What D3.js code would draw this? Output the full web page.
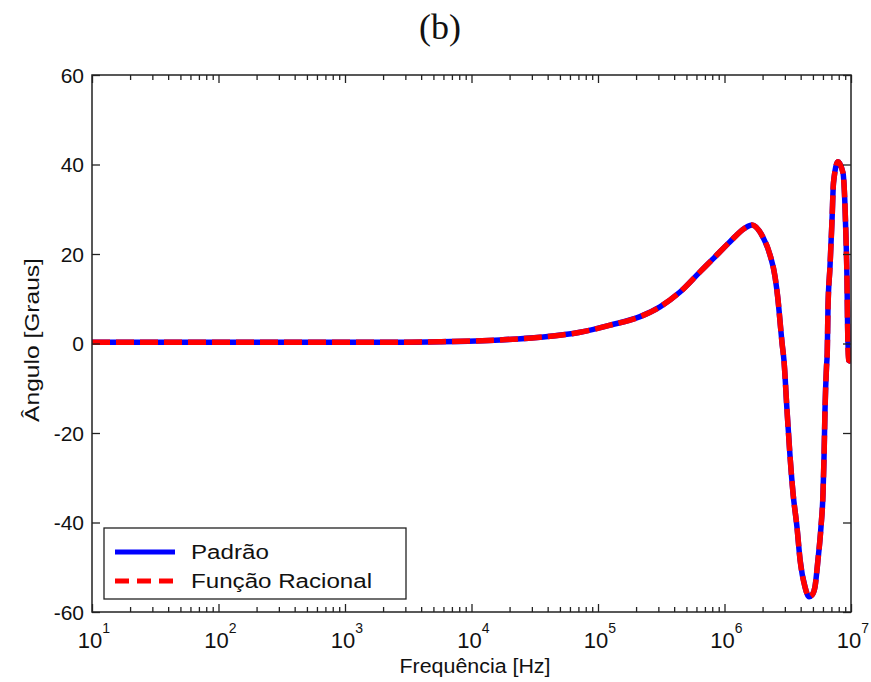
<!DOCTYPE html>
<html>
<head>
<meta charset="utf-8">
<script src="https://cdn.jsdelivr.net/npm/d3@7"></script>
<style>
  body { margin: 0; background: #fff; }
  text { font-family: "Liberation Sans", Arial, sans-serif; fill: #111; }
</style>
</head>
<body>
<svg id="chart" width="871" height="682"></svg>
<script>
// frequency points (Hz)
const freqHz = [10, 100, 1e3, 3e3, 5.64e3, 1.68e4, 3.48e4, 7.21e4, 1.25e5, 2.15e5, 3.09e5, 4.45e5,
  6.40e5, 8.11e5, 1.10e6, 1.45e6, 1.65e6, 2.01e6, 2.29e6, 2.51e6, 2.65e6, 2.75e6, 2.85e6, 2.95e6,
  3.12e6, 3.30e6, 3.48e6, 3.74e6, 3.96e6, 4.33e6, 4.66e6, 4.92e6, 5.19e6, 5.48e6, 5.79e6, 6.01e6,
  6.12e6, 6.23e6, 6.40e6, 6.49e6, 6.58e6, 6.82e6, 7.08e6, 7.27e6, 7.89e6, 8.65e6, 8.97e6, 9.14e6,
  9.30e6, 9.38e6, 9.55e6, 1e7];
// "Padrão" phase (degrees)
const padrao = [0.3, 0.3, 0.3, 0.3, 0.4, 0.8, 1.4, 2.5, 4.1, 6.0, 8.2, 11.5,
  16.0, 18.9, 22.7, 25.8, 26.5, 23.8, 19.8, 14.9, 9.7, 4.8, 0.1, -3.7,
  -14.9, -25.4, -33.4, -41.0, -48.4, -54.4, -56.6, -56.2, -54.4, -48.4, -41.0, -33.4,
  -25.4, -14.9, -5.3, -2.1, 8.2, 17.1, 27.6, 35.9, 40.6, 38.1, 30.5, 23.1,
  14.2, 5.9, -3.7, -4.0];
// "Função Racional" phase (degrees)
const racional = [0.3, 0.3, 0.3, 0.3, 0.4, 0.8, 1.4, 2.5, 4.1, 6.0, 8.2, 11.5,
  16.0, 18.9, 22.7, 25.8, 26.5, 23.8, 19.8, 14.9, 9.7, 4.8, 0.1, -3.7,
  -14.9, -25.4, -33.4, -41.0, -48.4, -54.4, -56.6, -56.2, -54.4, -48.4, -41.0, -33.4,
  -25.4, -14.9, -5.3, -2.1, 8.2, 17.1, 27.6, 35.9, 40.6, 38.1, 30.5, 23.1,
  14.2, 5.9, -3.7, -4.0];

const xExponents = [1, 2, 3, 4, 5, 6, 7];
const yTicks = [60, 40, 20, 0, -20, -40, -60];
const legendNames = ['Padrão', 'Função Racional'];

const svg = d3.select('#chart');
const plotLeft = 92, plotRight = 851, plotTop = 75, plotBottom = 612;

const x = d3.scaleLog().domain([10, 1e7]).range([plotLeft, plotRight]);
const y = d3.scaleLinear().domain([-60, 60]).range([plotBottom, plotTop]);

// title
svg.append('text')
  .attr('x', 440).attr('y', 39)
  .attr('text-anchor', 'middle')
  .style('font-family', '"Liberation Serif", "Times New Roman", serif')
  .style('font-size', '36px')
  .text('(b)');

// curves, clipped to the box
svg.append('clipPath').attr('id', 'clip')
  .append('rect').attr('x', plotLeft).attr('y', plotTop)
  .attr('width', plotRight - plotLeft).attr('height', plotBottom - plotTop);

const line = (vals) => d3.line()
  .x((d, i) => x(freqHz[i]))
  .y((d) => y(d))
  .curve(d3.curveMonotoneX)(vals);

const curves = svg.append('g').attr('clip-path', 'url(#clip)');
curves.append('path')
  .attr('d', line(padrao))
  .attr('fill', 'none').attr('stroke', '#0000ff').attr('stroke-width', 5.5);
curves.append('path')
  .attr('d', line(racional))
  .attr('fill', 'none').attr('stroke', '#ff0000').attr('stroke-width', 5.5)
  .attr('stroke-dasharray', '18,6');

// ticks (inward, on all four sides)
const minor = [];
xExponents.slice(0, -1).forEach((e) => {
  for (let k = 2; k <= 9; k++) minor.push(k * Math.pow(10, e));
});
const majors = xExponents.map((e) => Math.pow(10, e));

const tickGroup = (axis, tx, ty) => {
  const g = svg.append('g').attr('transform', `translate(${tx},${ty})`).call(axis);
  g.select('.domain').remove();
  g.selectAll('line').attr('stroke', '#222').attr('stroke-width', 1.3);
  g.selectAll('text').remove();
  return g;
};

tickGroup(d3.axisBottom(x).tickValues(minor).tickSize(-5).tickFormat(''), 0, plotBottom);
tickGroup(d3.axisBottom(x).tickValues(majors).tickSize(-8).tickFormat(''), 0, plotBottom);
tickGroup(d3.axisTop(x).tickValues(minor).tickSize(-5).tickFormat(''), 0, plotTop);
tickGroup(d3.axisTop(x).tickValues(majors).tickSize(-8).tickFormat(''), 0, plotTop);
tickGroup(d3.axisLeft(y).tickValues(yTicks).tickSize(-8).tickFormat(''), plotLeft, 0);
tickGroup(d3.axisRight(y).tickValues(yTicks).tickSize(-8).tickFormat(''), plotRight, 0);

// box
svg.append('rect')
  .attr('x', plotLeft).attr('y', plotTop)
  .attr('width', plotRight - plotLeft).attr('height', plotBottom - plotTop)
  .attr('fill', 'none').attr('stroke', '#222').attr('stroke-width', 1.5);

// x tick labels 10^n
const xl = svg.append('g').selectAll('text')
  .data(xExponents).enter().append('text')
  .attr('x', (d) => x(Math.pow(10, d)) + 2)
  .attr('y', 648)
  .attr('text-anchor', 'middle')
  .style('font-size', '22px');
xl.append('tspan').text('10');
xl.append('tspan').attr('dy', -15).style('font-size', '14px').text((d) => d);

// y tick labels
svg.append('g').selectAll('text')
  .data(yTicks).enter().append('text')
  .attr('x', plotLeft - 8)
  .attr('y', (d) => y(d))
  .attr('dy', '0.36em')
  .attr('text-anchor', 'end')
  .style('font-size', '21px')
  .text((d) => d);

// axis labels (the source art is a little stretched sideways)
svg.append('text')
  .attr('transform', 'translate(475,673) scale(1.07,1)')
  .attr('text-anchor', 'middle')
  .style('font-size', '20px')
  .text('Frequência [Hz]');

svg.append('text')
  .attr('transform', 'translate(39,340) rotate(-90) scale(1.17,1)')
  .attr('text-anchor', 'middle')
  .style('font-size', '21px')
  .text('Ângulo [Graus]');

// legend
const legend = svg.append('g');
legend.append('rect')
  .attr('x', 104).attr('y', 528).attr('width', 302).attr('height', 71)
  .attr('fill', '#fff').attr('stroke', '#222').attr('stroke-width', 1.3);

const legendStyles = [
  { color: '#0000ff', dash: null },
  { color: '#ff0000', dash: '14,8' }
];
legend.selectAll('line')
  .data(legendNames).enter().append('line')
  .attr('x1', 115).attr('x2', 175)
  .attr('y1', (d, i) => 552 + i * 29).attr('y2', (d, i) => 552 + i * 29)
  .attr('stroke', (d, i) => legendStyles[i].color)
  .attr('stroke-width', 5)
  .attr('stroke-dasharray', (d, i) => legendStyles[i].dash);
legend.selectAll('text')
  .data(legendNames).enter().append('text')
  .attr('transform', (d, i) => `translate(191,${559 + i * 29}) scale(1.15,1)`)
  .style('font-size', '21px')
  .text((d) => d);
</script>
</body>
</html>
